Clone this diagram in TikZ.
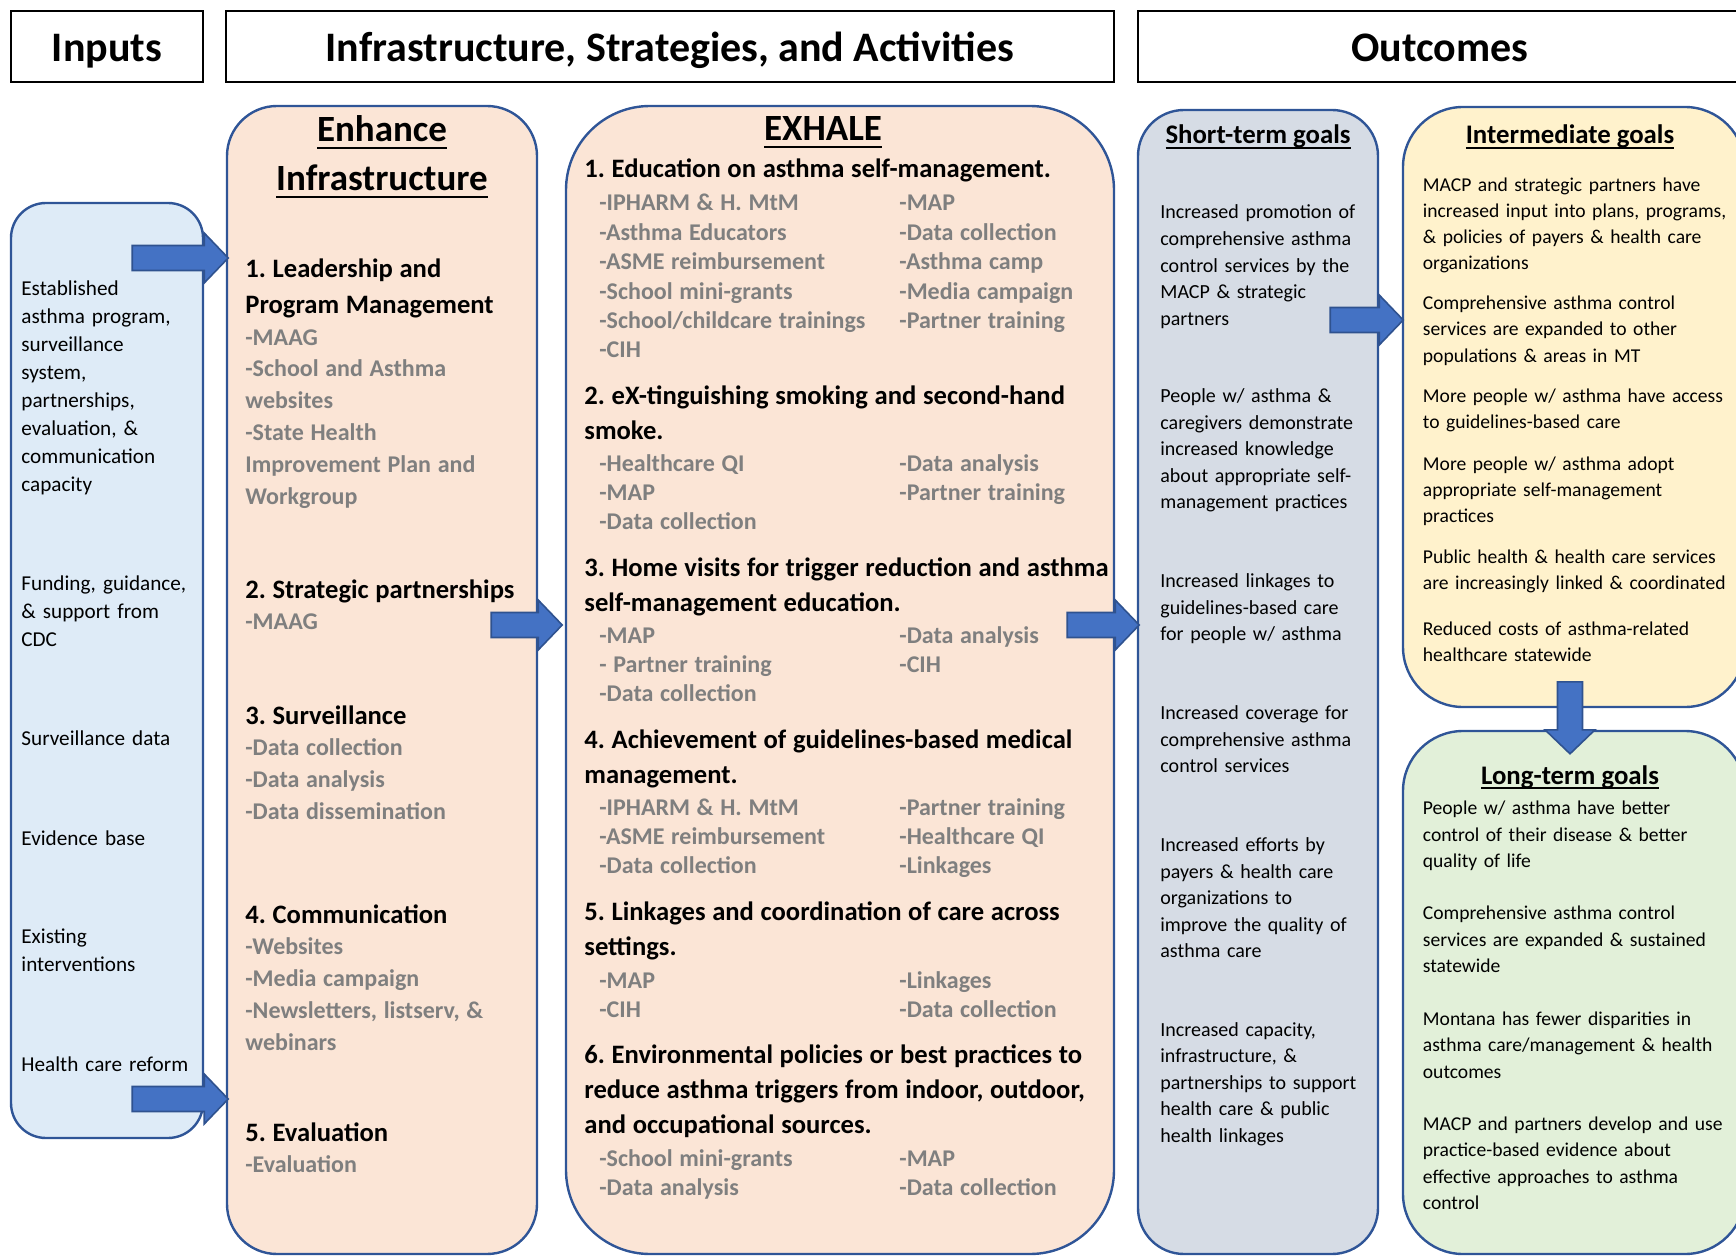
\documentclass[tikz,border=0pt]{standalone}
\usepackage{fontspec}
\setmainfont{Carlito}
\usetikzlibrary{fit}

\definecolor{inputbg}{HTML}{DEEBF7}
\definecolor{actbg}{HTML}{FBE5D6}
\definecolor{shortbg}{HTML}{D6DCE5}
\definecolor{midbg}{HTML}{FFF2CC}
\definecolor{longbg}{HTML}{E2F0D9}
\definecolor{laneedge}{HTML}{2F5597}
\definecolor{arrowfill}{HTML}{4472C4}
\definecolor{arrowedge}{HTML}{2F528F}
\definecolor{actgray}{HTML}{7F7F7F}

\frenchspacing
% underline that sits below the descenders
\newcommand{\ulined}[1]{\leavevmode\setbox0\hbox{#1}\rlap{\rule[-0.2em]{\wd0}{0.07em}}\box0}
\newcommand{\task}[1]{{\fontsize{13.3}{17.7}\selectfont\bfseries #1\par}}
\newcommand{\acts}[2][15.9]{{\fontsize{12}{#1}\selectfont\bfseries\color{actgray}#2\par}}

\tikzset{
  hdr/.style={draw, line width=1.1pt, inner sep=0pt},
  hdrtext/.style={anchor=base, inner sep=0pt, font=\fontsize{21}{25}\selectfont\bfseries},
  lane/.style={draw=laneedge, line width=1.2pt, inner sep=0pt, rounded corners=#1},
  title/.style={anchor=base, inner sep=0pt, align=center, font=\fontsize{18.5}{24.35}\selectfont\bfseries},
  goalhead/.style={anchor=base, inner sep=0pt, font=\fontsize{13.4}{16}\selectfont\bfseries},
  txt/.style={anchor=base west, inner sep=0pt, align=left, text width=#1},
  pics/fatarrow/.style={code={
    \draw[fill=arrowfill, draw=arrowedge, line width=0.8pt, line join=miter]
      (24,0) -- (0,25) -- (0,12.5) -- (-#1,12.5) -- (-#1,-12.5) -- (0,-12.5) -- (0,-25) -- cycle;
  }}
}

\begin{document}
\begin{tikzpicture}[x=0.5pt, y=-0.5pt]
\useasboundingbox (0,0) rectangle (1736,1257);

% column headers
\node[hdr, fit={(11,11) (203,82)}] (hin) {};
\node[hdr, fit={(226,11) (1114,82)}] (hisa) {};
\node[hdr, fit={(1138,11) (1742,82)}] (hout) {};
\node[hdrtext] (hintext) at (hin.center |- 0,62) {Inputs};
\node[hdrtext] (hisatext) at (hisa.center |- 0,62) {Infrastructure, Strategies, and Activities};
\node[hdrtext] (houttext) at (hout.center |- 0,62) {Outcomes};

% lanes
\node[lane=17.5pt, fill=inputbg, fit={(11,203) (203,1138)}] (inp) {};
\node[lane=25pt, fill=actbg, fit={(227,106) (537,1254)}] (enh) {};
\node[lane=42pt, fill=actbg, fit={(566,106) (1114,1254)}] (exh) {};
\node[lane=23pt, fill=shortbg, fit={(1138,110) (1378,1254)}] (st) {};
\node[lane=30pt, fill=midbg, fit={(1403,107) (1745,707)}] (im) {};
\node[lane=30pt, fill=longbg, fit={(1403,731) (1745,1254)}] (lt) {};

% block arrows
\foreach \src/\y/\shaft in {inp/258/72, inp/1099/72, enh/625/47, exh/625/48, st/320/49}
  \pic at (\src.east |- 0,\y) {fatarrow=\shaft};
\pic[rotate=-90] at (1570,0 |- lt.north) {fatarrow=48};

% lane titles
\node[title, text width=150pt] (enhtitle) at (382,142) {\ulined{Enhance}\\\ulined{Infrastructure}};
\node[title] (exhtitle) at (823,141) {\ulined{EXHALE}};
\node[goalhead] (sttitle) at (1258,144) {\ulined{Short-term goals}};
\node[goalhead] (imtitle) at (1570,144) {\ulined{Intermediate goals}};
\node[goalhead] (lttitle) at (1570,784) {\ulined{Long-term goals}};

% inputs
\foreach \y/\t [count=\i] in {296/{Established\\asthma program,\\surveillance\\system,\\partnerships,\\evaluation, \&\\communication\\capacity},
    590.4/{Funding, guidance,\\\& support from\\CDC}, 745.4/{Surveillance data}, 845/{Evidence base},
    943.5/{Existing\\interventions}, 1071/{Health care reform}}
  \node[txt=90pt, font=\fontsize{10.6}{14}\selectfont] (in\i) at (21,\y) {\t};

% enhance infrastructure
\node[txt=140pt] (lead) at (245,278) {\task{1. Leadership and\\Program Management}\acts{-MAAG\\-School and Asthma\\websites\\-State Health\\Improvement Plan and\\Workgroup}};
\node[txt=140pt] (part) at (245,598) {\task{2. Strategic partnerships}\acts{-MAAG}};
\node[txt=140pt] (surv) at (245,724) {\task{3. Surveillance}\acts{-Data collection\\-Data analysis\\-Data dissemination}};
\node[txt=140pt] (comm) at (245,923) {\task{4. Communication}\acts{-Websites\\-Media campaign\\-Newsletters, listserv, \&\\webinars}};
\node[txt=140pt] (eval) at (245,1141) {\task{5. Evaluation}\acts{-Evaluation}};

% exhale
\foreach \n/\y/\t in {1/178/{1. Education on asthma self-management.},
    2/404/{2. eX-tinguishing smoking and second-hand\\smoke.},
    3/576/{3. Home visits for trigger reduction and asthma\\self-management education.},
    4/748.5/{4. Achievement of guidelines-based medical\\management.},
    5/920/{5. Linkages and coordination of care across\\settings.},
    6/1063/{6. Environmental policies or best practices to\\reduce asthma triggers from indoor, outdoor,\\and occupational sources.}}
  \node[txt=270pt] (task\n) at (584,\y) {\task{\t}};

\foreach \n/\y/\l/\r in {1/211/{-IPHARM \& H. MtM\\-Asthma Educators\\-ASME reimbursement\\-School mini-grants\\-School/childcare trainings\\-CIH}/{-MAP\\-Data collection\\-Asthma camp\\-Media campaign\\-Partner training},
    2/471/{-Healthcare QI\\-MAP\\-Data collection}/{-Data analysis\\-Partner training},
    3/643/{-MAP\\- Partner training\\-Data collection}/{-Data analysis\\-CIH},
    4/815/{-IPHARM \& H. MtM\\-ASME reimbursement\\-Data collection}/{-Partner training\\-Healthcare QI\\-Linkages},
    5/988/{-MAP\\-CIH}/{-Linkages\\-Data collection},
    6/1166/{-School mini-grants\\-Data analysis}/{-MAP\\-Data collection}}
{
  \node[txt=140pt] (acts\n-a) at (599,\y) {\acts[14.7]{\l}};
  \node[txt=100pt] (acts\n-b) at (899,\y) {\acts[14.7]{\r}};
}

% short-term goals
\foreach \y/\t [count=\i] in {219/{Increased promotion of\\comprehensive asthma\\control services by the\\MACP \& strategic\\partners},
    402.5/{People w/ asthma \&\\caregivers demonstrate\\increased knowledge\\about appropriate self-\\management practices},
    587.5/{Increased linkages to\\guidelines-based care\\for people w/ asthma},
    719.5/{Increased coverage for\\comprehensive asthma\\control services},
    851.5/{Increased efforts by\\payers \& health care\\organizations to\\improve the quality of\\asthma care},
    1036/{Increased capacity,\\infrastructure, \&\\partnerships to support\\health care \& public\\health linkages}}
  \node[txt=110pt, font=\fontsize{10}{13.3}\selectfont] (st\i) at (1160,\y) {\t};

% intermediate goals
\foreach \y/\t [count=\i] in {191.4/{MACP and strategic partners have\\increased input into plans, programs,\\\& policies of payers \& health care\\organizations},
    309.8/{Comprehensive asthma control\\services are expanded to other\\populations \& areas in MT},
    402.8/{More people w/ asthma have access\\to guidelines-based care},
    470.3/{More people w/ asthma adopt\\appropriate self-management\\practices},
    563.3/{Public health \& health care services\\are increasingly linked \& coordinated},
    635.3/{Reduced costs of asthma-related\\healthcare statewide}}
  \node[txt=160pt, font=\fontsize{9.8}{13.1}\selectfont] (im\i) at (1422.5,\y) {\t};

% long-term goals
\foreach \y/\t [count=\i] in {814.5/{People w/ asthma have better\\control of their disease \& better\\quality of life},
    919.7/{Comprehensive asthma control\\services are expanded \& sustained\\statewide},
    1025/{Montana has fewer disparities in\\asthma care/management \& health\\outcomes},
    1130/{MACP and partners develop and use\\practice-based evidence about\\effective approaches to asthma\\control}}
  \node[txt=160pt, font=\fontsize{9.8}{13.3}\selectfont] (lt\i) at (1422.5,\y) {\t};
\end{tikzpicture}
\end{document}
